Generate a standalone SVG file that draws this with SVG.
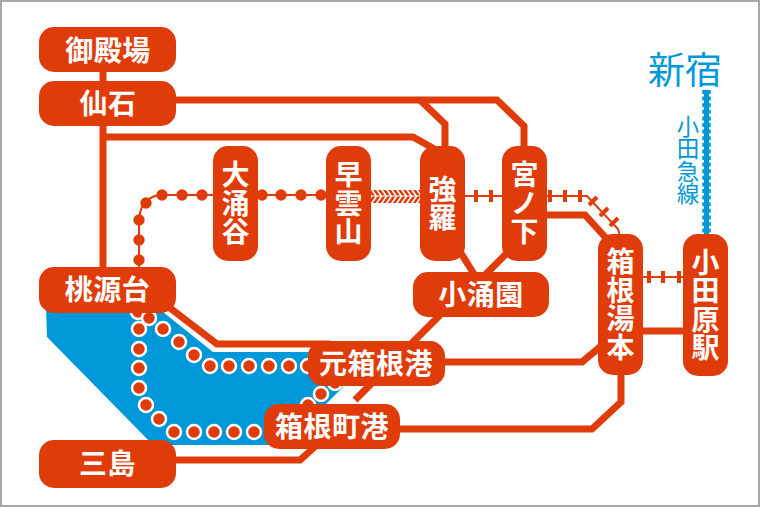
<svg xmlns="http://www.w3.org/2000/svg" width="760" height="507" viewBox="0 0 760 507">
<style>
.n{fill:#e03c0a}
.t{fill:#fff;font-family:"Noto Sans CJK JP","Noto Sans",sans-serif;font-weight:700;font-size:28px;text-anchor:middle;letter-spacing:.5px}
.v{writing-mode:vertical-rl}
.l{fill:none;stroke:#e03c0a;stroke-width:7}
.th{fill:none;stroke:#e03c0a;stroke-width:2}
.tick{fill:none;stroke:#e03c0a;stroke-width:4}
.b{fill:#0098d8;font-family:"Noto Sans CJK JP","Noto Sans",sans-serif;text-anchor:middle}
.d{fill:#e03c0a;stroke:#fff;stroke-width:2.5}
</style>
<defs>
<pattern id="h1" width="5" height="20" patternUnits="userSpaceOnUse" patternTransform="skewX(35)"><rect width="3" height="20" fill="#e03c0a"/></pattern>
<pattern id="h2" width="5" height="20" patternUnits="userSpaceOnUse" patternTransform="skewX(-35)"><rect width="3" height="20" fill="#e03c0a"/></pattern>
</defs>
<rect x="0" y="0" width="760" height="507" fill="#fff"/>
<rect x="1" y="1" width="758" height="505" fill="none" stroke="#a8a8a8" stroke-width="2"/>
<polygon points="46,305 47,337 153,445 285,445 343,387 332,352 213,352 163,312" fill="#0098d8"/>
<g id="connectors">
<path class="l" d="M103 70V270"/>
<path class="l" d="M170 100H497L524 126V150"/>
<path class="l" d="M420 100L445 124V150"/>
<path class="l" d="M103 137H413L438 151"/>
<path class="l" d="M170 308L217 344H330"/>
<path class="l" d="M445 362H582L606 342"/>
<path class="l" d="M400 429H592L621 402V370"/>
<path class="l" d="M170 460H300L318 444"/>
<path class="l" d="M355 400L440 315"/>
<path class="l" d="M459 250L474 274"/>
<path class="l" d="M510 250L485 275"/>
<path class="l" d="M545 215H585L606 238"/>
<path class="l" d="M640 331H690"/>
<path class="th" d="M139 270V222Q139 200 158 195H215M258 195H330"/>
<g fill="#e03c0a">
<circle cx="139" cy="260" r="5.700"/><circle cx="139" cy="240" r="5.700"/><circle cx="139" cy="220" r="5.700"/><circle cx="146" cy="203" r="5.700"/><circle cx="162" cy="195" r="5.700"/><circle cx="182" cy="195" r="5.700"/><circle cx="202" cy="195" r="5.700"/><circle cx="262" cy="195" r="5.700"/><circle cx="281" cy="195" r="5.700"/><circle cx="301" cy="195" r="5.700"/><circle cx="321" cy="195" r="5.700"/>
</g>
<rect x="371" y="190" width="50" height="5.500" fill="url(#h1)"/>
<rect x="371" y="196.500" width="50" height="6.500" fill="url(#h2)"/>
<path class="th" d="M465 196H503M547 196H587L618 229L620 236M643 277H685"/>
<path class="tick" d="M476 190V202M491 190V202M550 190V202M565 190V202M580 190V202M589 205L597 197M600 216L608 208M610 226L618 218M649 271V283M663 271V283M679 271V283"/>
<path d="M706.500 90V236" stroke="#0098d8" stroke-width="5" fill="none"/>
<path d="M706.500 90V236" stroke="#0098d8" stroke-width="8.500" stroke-dasharray="4 2.600" fill="none"/>
</g>
<g id="harbor-dots" class="d">
<circle cx="138" cy="312" r="7"/><circle cx="149" cy="318" r="7"/><circle cx="139" cy="329" r="7"/><circle cx="139" cy="349" r="7"/><circle cx="139" cy="368" r="7"/><circle cx="139" cy="388" r="7"/><circle cx="146" cy="405" r="7"/><circle cx="159" cy="419" r="7"/><circle cx="174" cy="432" r="7"/><circle cx="194" cy="432" r="7"/><circle cx="214" cy="432" r="7"/><circle cx="234" cy="432" r="7"/><circle cx="254" cy="432" r="7"/><circle cx="308" cy="405" r="7"/><circle cx="321" cy="394" r="7"/><circle cx="335" cy="383" r="7"/>
<circle cx="163" cy="329" r="7"/><circle cx="179" cy="342" r="7"/><circle cx="194" cy="355" r="7"/><circle cx="210" cy="366" r="7"/><circle cx="229" cy="366" r="7"/><circle cx="249" cy="366" r="7"/><circle cx="269" cy="366" r="7"/><circle cx="289" cy="366" r="7"/><circle cx="308" cy="366" r="7"/>
</g>
<g id="n1"><rect class="n" x="39" y="27" width="137" height="45" rx="15"/><text class="t" x="108" y="61">御殿場</text></g>
<g id="n2"><rect class="n" x="39" y="81" width="137" height="45" rx="15"/><text class="t" x="108" y="114">仙石</text></g>
<g id="n3"><rect class="n" x="39" y="267" width="137" height="46" rx="15"/><text class="t" x="107.500" y="300">桃源台</text></g>
<g id="n4"><rect class="n" x="39" y="440" width="137" height="48" rx="15"/><text class="t" x="107.500" y="474">三島</text></g>
<g id="n5"><rect class="n" x="213" y="146" width="45" height="115" rx="15"/><text class="t v" x="235.500" y="203.500">大涌谷</text></g>
<g id="n6"><rect class="n" x="326" y="146" width="45" height="115" rx="15"/><text class="t v" x="348.500" y="203.500">早雲山</text></g>
<g id="n7"><rect class="n" x="420" y="146" width="45" height="115" rx="15"/><text class="t v" x="442.500" y="203.500">強羅</text></g>
<g id="n8"><rect class="n" x="502" y="146" width="45" height="115" rx="15"/><text class="t v" x="524.500" y="203.500">宮ノ下</text></g>
<g id="n9"><rect class="n" x="413" y="272" width="136" height="45" rx="15"/><text class="t" x="481" y="305">小涌園</text></g>
<g id="n10"><rect class="n" x="598" y="234" width="45" height="141" rx="15"/><text class="t v" x="620.500" y="304.500">箱根湯本</text></g>
<g id="n11"><rect class="n" x="683" y="234" width="45" height="142" rx="15"/><text class="t v" x="705.500" y="305">小田原駅</text></g>
<g id="n12"><rect class="n" x="308" y="341" width="137" height="45" rx="15"/><text class="t" x="376" y="374">元箱根港</text></g>
<g id="n13"><rect class="n" x="264" y="404" width="136" height="45" rx="15"/><text class="t" x="332" y="437">箱根町港</text></g>
<text class="b" x="685" y="84" font-size="37">新宿</text>
<text class="b v" x="688" y="160" font-size="22.500">小田急線</text>
</svg>
